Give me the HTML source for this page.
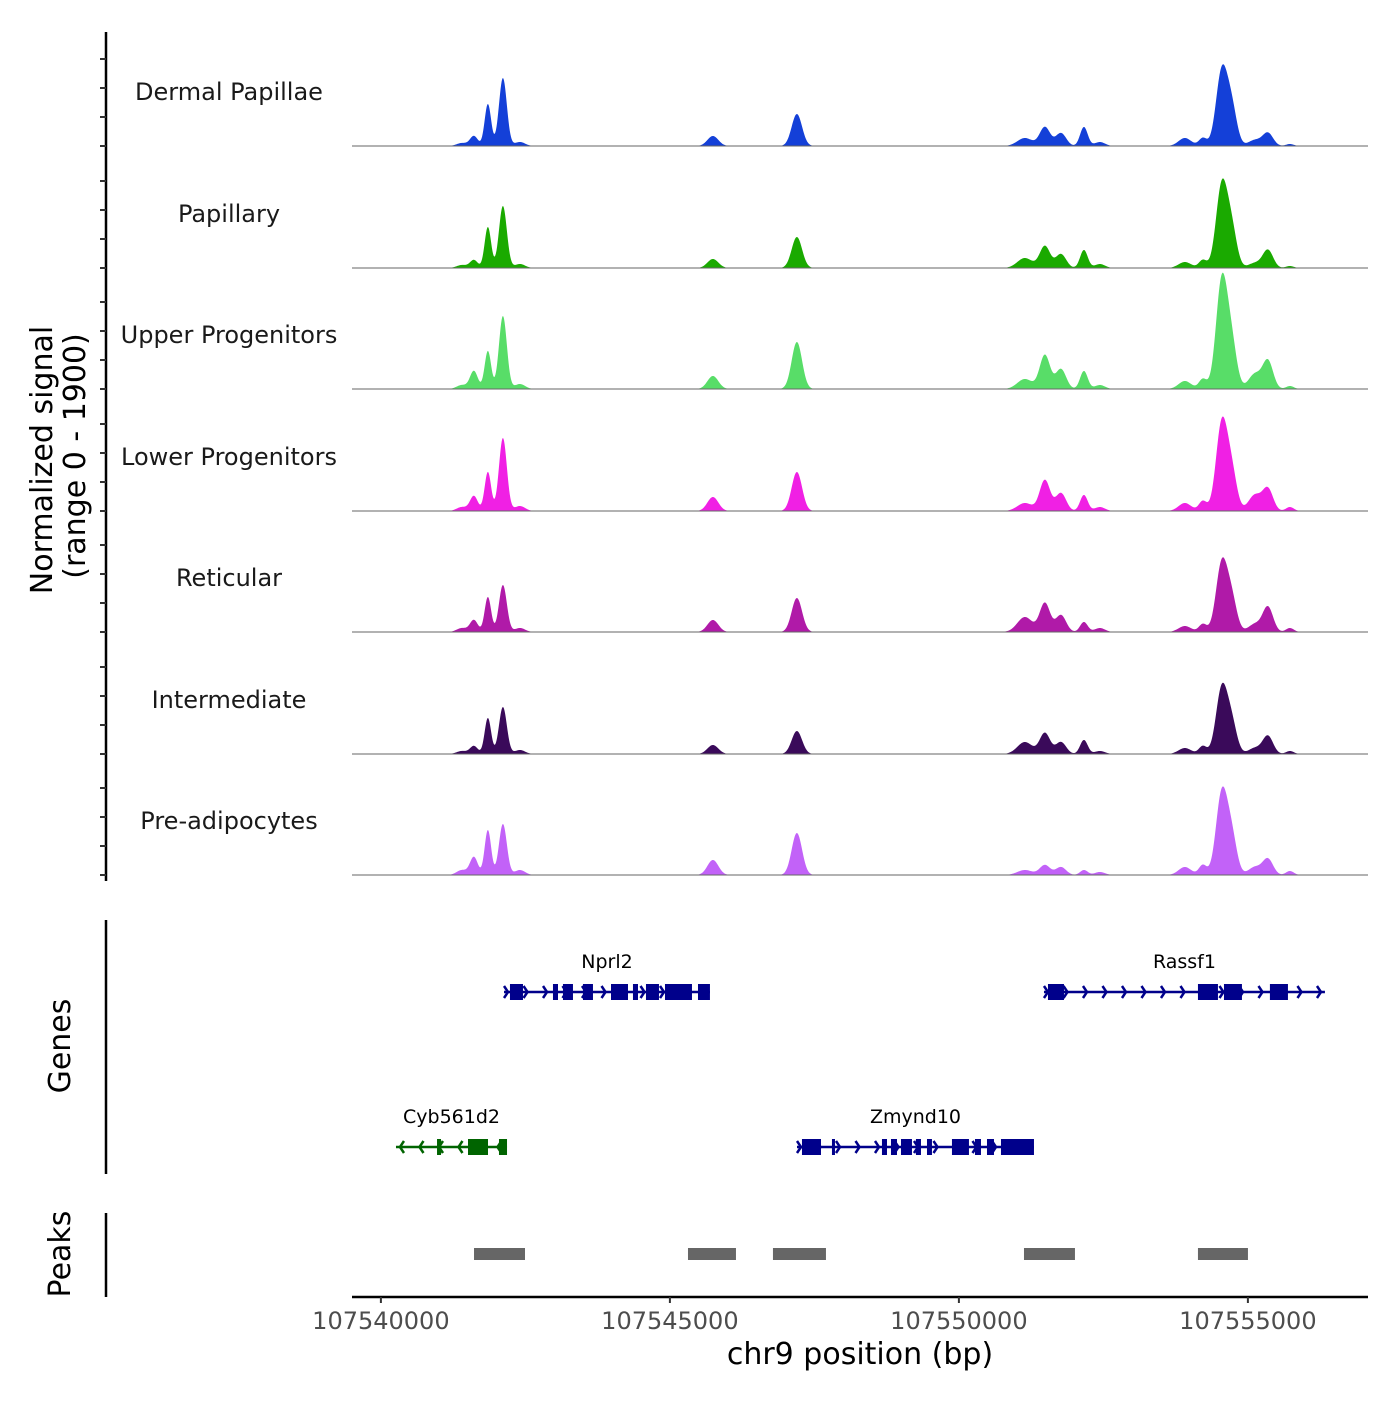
<!DOCTYPE html>
<html><head><meta charset="utf-8"><style>
body{margin:0;background:#fff}
svg text{font-family:"DejaVu Sans","Liberation Sans",sans-serif}
</style></head><body>
<svg id="chart" width="1400" height="1400" viewBox="0 0 1400 1400" xmlns="http://www.w3.org/2000/svg">
<g id="tracks"></g>
<g id="axes"></g>
<g id="genes"></g>
<g id="peaks"></g>
</svg>
<script>
const trackNames = ["Dermal Papillae","Papillary","Upper Progenitors","Lower Progenitors","Reticular","Intermediate","Pre-adipocytes"];
const trackColors = ["#1440d8","#1aaa00","#58dd68","#f020e4","#b01aa8","#3a0a5a","#c262f8"];
const peakCenters = [107541401,107541609,107541851,107542111,107542405,107545744,107547197,107551142,107551488,107551765,107552163,107552439,107553910,107554221,107554550,107554723,107555121,107555346,107555727];
const peakSigmas = [90,68,56,68,90,95,90,130,90,90,66,90,110,68,100,90,110,90,68];
const heightsDP = [48,160,672,1088,64,160,512,128,304,208,304,64,128,128,1200,560,96,208,32];
const heightsPap = [48,128,656,992,64,144,496,160,352,224,288,64,96,128,1328,560,80,288,32];
const heightsUpper = [64,288,608,1168,80,208,752,160,544,320,288,64,128,160,1744,640,240,448,48];
const heightsLower = [64,240,624,1168,80,224,624,128,496,288,256,64,128,160,1408,560,256,352,64];
const heightsRet = [64,192,560,752,64,192,544,240,464,272,160,64,96,128,1104,480,128,400,64];
const heightsInt = [48,128,576,752,64,144,368,192,336,192,224,48,96,128,1056,448,96,288,48];
const heightsPre = [80,288,720,816,80,240,672,80,160,128,80,48,128,160,1312,560,128,256,64];
const trackHeights = [heightsDP,heightsPap,heightsUpper,heightsLower,heightsRet,heightsInt,heightsPre];
const xTicks = [107540000,107545000,107550000,107555000];
const xTickLabels = ["107540000","107545000","107550000","107555000"];
const geneNames = ["Nprl2","Rassf1","Cyb561d2","Zmynd10"];
const geneStarts = [107542130,107551472,107540261,107547199];
const geneEnds = [107545693,107556333,107542182,107551299];
const geneStrands = [1,1,-1,1];
const geneRows = [0,0,1,1];
const geneExons = [
 [[107542233,107542458],[107542977,107543064],[107543150,107543323],[107543496,107543669],[107543981,107544275],[107544361,107544448],[107544586,107544811],[107544915,107545382],[107545486,107545693]],
 [[107551541,107551818],[107554136,107554482],[107554586,107554897],[107555381,107555693]],
 [[107540971,107541040],[107541507,107541853],[107542043,107542182]],
 [[107547285,107547614],[107547804,107547856],[107548669,107548756],[107548825,107548929],[107548998,107549188],[107549257,107549344],[107549448,107549534],[107549880,107550174],[107550278,107550382],[107550486,107550607],[107550728,107551299]]
];
const peakStarts = [107541611,107545313,107546783,107551126,107554136];
const peakEnds = [107542493,107546143,107547700,107552008,107555001];

const NS="http://www.w3.org/2000/svg";
const X0=352,X1=1368,D0=107539500,D1=107557078;
function xs(bp){return X0+(bp-D0)/(D1-D0)*(X1-X0);}
const baselines=[146,268,389,511,632,754,875];
const yMax=1900, trackPx=118.75;
function ys(i,v){return baselines[i]-v/yMax*trackPx;}
function mk(tag,attrs,parent){const e=document.createElementNS(NS,tag);for(const k in attrs)e.setAttribute(k,attrs[k]);parent.appendChild(e);return e;}
const tg=document.getElementById('tracks');
for(let t=0;t<7;t++){
  const h=trackHeights[t];
  let d="M"+xs(107540200)+","+baselines[t];
  for(let bp=107540200;bp<=107556300;bp+=10){
    let v=0;
    for(let p=0;p<peakCenters.length;p++){const z=(bp-peakCenters[p])/peakSigmas[p];if(Math.abs(z)<6)v+=h[p]*Math.exp(-0.5*z*z);}
    d+="L"+xs(bp).toFixed(2)+","+ys(t,v).toFixed(2);
  }
  d+="L"+xs(107556300)+","+baselines[t]+"Z";
  const a=mk('path',{d:d,fill:trackColors[t]},tg);
  
  
  const l=mk('line',{x1:X0,x2:X1,y1:baselines[t],y2:baselines[t],stroke:'#666','stroke-width':1},tg);
  
  
  const tx=mk('text',{x:229,y:baselines[t]-46,'text-anchor':'middle','font-size':24,fill:'#1a1a1a'},tg);
  tx.textContent=trackNames[t];
  
  
}
const ax=document.getElementById('axes');
mk('line',{x1:106,x2:106,y1:32,y2:881,stroke:'#000','stroke-width':2.5},ax);
for(let t=0;t<7;t++)for(let k=0;k<4;k++){
  const y=baselines[t]-k*29;
  const tk=mk('line',{x1:100,x2:106,y1:y,y2:y,stroke:'#333','stroke-width':2},ax);
  
  
}
let yt=mk('text',{transform:'translate(52,460) rotate(-90)','text-anchor':'middle','font-size':30},ax);yt.textContent="Normalized signal";
let yt2=mk('text',{transform:'translate(85,456) rotate(-90)','text-anchor':'middle','font-size':30},ax);yt2.textContent="(range 0 - 1900)";
mk('line',{x1:106,x2:106,y1:920,y2:1174,stroke:'#000','stroke-width':2.5},ax);
let gt=mk('text',{transform:'translate(70,1046) rotate(-90)','text-anchor':'middle','font-size':30},ax);gt.textContent="Genes";
mk('line',{x1:106,x2:106,y1:1213,y2:1297,stroke:'#000','stroke-width':2.5},ax);
let pt=mk('text',{transform:'translate(70,1254) rotate(-90)','text-anchor':'middle','font-size':30},ax);pt.textContent="Peaks";
mk('line',{x1:X0,x2:X1,y1:1297,y2:1297,stroke:'#000','stroke-width':2.5},ax);
xTicks.forEach((v,i)=>{
  const tk=mk('line',{x1:xs(v),x2:xs(v),y1:1297,y2:1303,stroke:'#333','stroke-width':2},ax);
  
  
  const tl=mk('text',{x:xs(v),y:1329,'text-anchor':'middle','font-size':24,fill:'#4d4d4d'},ax);
  tl.textContent=xTickLabels[i];
  
  
});
let xt=mk('text',{x:860,y:1364,'text-anchor':'middle','font-size':30},ax);xt.textContent="chr9 position (bp)";

const gg=document.getElementById('genes');
const rowY=[992,1147];
geneNames.forEach((n,i)=>{
  const y=rowY[geneRows[i]], c=geneStrands[i]>0?'#00008b':'#006400';
  const g=mk('g',{},gg);
  
  
  const a=xs(geneStarts[i]),b=xs(geneEnds[i]);
  mk('line',{x1:a,x2:b,y1:y,y2:y,stroke:c,'stroke-width':2.5},g);
  for(let x=a+4;x<=b;x+=19.5){
    const s=geneStrands[i];
    mk('path',{d:`M${x-4*s},${y-6}L${x},${y}L${x-4*s},${y+6}`,fill:'none',stroke:c,'stroke-width':2.5},g);
  }
  geneExons[i].forEach(e=>{mk('rect',{x:xs(e[0]),y:y-8,width:Math.max(2,xs(e[1])-xs(e[0])),height:16,fill:c},g);});
  const t=mk('text',{x:(a+b)/2,y:y-24,'text-anchor':'middle','font-size':19},g);t.textContent=n;
});
const pg=document.getElementById('peaks');
peakStarts.forEach((s,i)=>{
  const r=mk('rect',{x:xs(s),y:1248,width:xs(peakEnds[i])-xs(s),height:12,fill:'#666'},pg);
  
  
});
</script>
</body></html>
